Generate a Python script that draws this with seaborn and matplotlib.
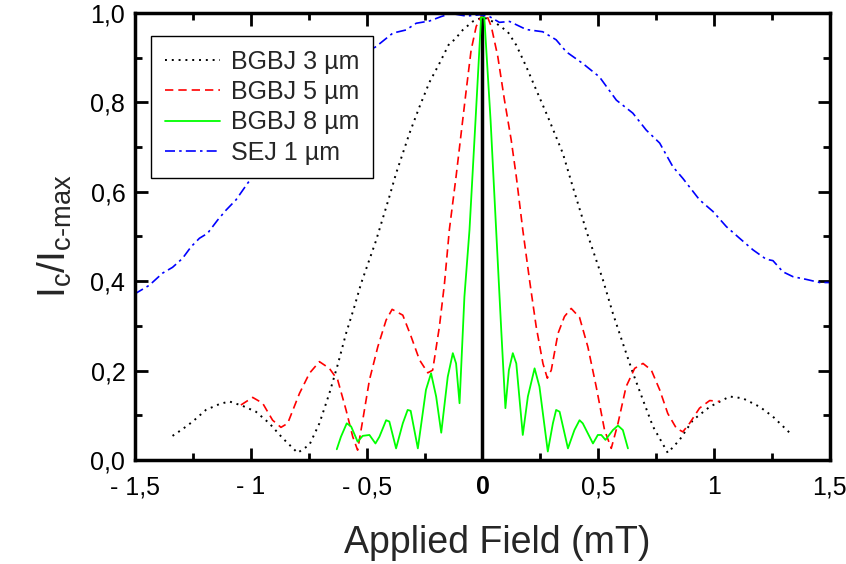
import matplotlib
matplotlib.use("Agg")
import matplotlib.pyplot as plt
import seaborn as sns
import pandas as pd
from matplotlib.ticker import AutoMinorLocator, FixedLocator

# ---------------- data ----------------
x_3um = [-1.338, -1.295, -1.251, -1.194, -1.136, -1.093, -1.035, -0.978, -0.920, -0.863,
         -0.798, -0.747, -0.704, -0.661, -0.625, -0.589, -0.553, -0.524, -0.46, -0.402,
         -0.373, -0.315, -0.272, -0.229, -0.186, -0.143, -0.121, -0.085, -0.042, -0.01,
         0.016, 0.059, 0.109, 0.146, 0.189, 0.232, 0.282, 0.347, 0.390, 0.45,
         0.520, 0.563, 0.606, 0.650, 0.693, 0.736, 0.800, 0.851, 0.908, 0.981,
         1.067, 1.124, 1.197, 1.254, 1.326]
y_3um = [0.054, 0.069, 0.086, 0.112, 0.125, 0.131, 0.121, 0.108, 0.082, 0.049,
         0.016, 0.034, 0.082, 0.149, 0.213, 0.283, 0.343, 0.395, 0.49, 0.589,
         0.641, 0.731, 0.790, 0.845, 0.887, 0.932, 0.940, 0.962, 0.981, 0.988,
         0.988, 0.977, 0.958, 0.928, 0.880, 0.828, 0.768, 0.686, 0.611, 0.51,
         0.403, 0.328, 0.261, 0.194, 0.134, 0.075, 0.016, 0.045, 0.089, 0.119,
         0.142, 0.138, 0.119, 0.097, 0.061]

x_5um = [-1.043, -0.992, -0.949, -0.906, -0.870, -0.841, -0.790, -0.747, -0.704, -0.661,
         -0.625, -0.589, -0.560, -0.539, -0.517, -0.488, -0.452, -0.416, -0.390, -0.344,
         -0.308, -0.272, -0.236, -0.215, -0.186, -0.164, -0.143, -0.114, -0.092, -0.070,
         -0.049, -0.027, -0.005, 0.016, 0.038, 0.066, 0.095, 0.124, 0.146, 0.174,
         0.203, 0.232, 0.261, 0.280, 0.297, 0.326, 0.354, 0.383, 0.419, 0.455,
         0.491, 0.527, 0.556, 0.585, 0.620, 0.657, 0.693, 0.729, 0.765, 0.800,
         0.837, 0.865, 0.894, 0.937, 0.981, 1.024]
y_5um = [0.123, 0.140, 0.127, 0.089, 0.073, 0.082, 0.149, 0.194, 0.220, 0.205,
         0.179, 0.112, 0.052, 0.022, 0.089, 0.179, 0.253, 0.313, 0.337, 0.324,
         0.276, 0.224, 0.195, 0.201, 0.298, 0.395, 0.515, 0.634, 0.731, 0.828,
         0.917, 0.970, 0.992, 0.998, 0.970, 0.903, 0.805, 0.716, 0.634, 0.515,
         0.403, 0.298, 0.216, 0.183, 0.201, 0.283, 0.321, 0.339, 0.319, 0.253,
         0.164, 0.067, 0.026, 0.082, 0.164, 0.205, 0.216, 0.201, 0.157, 0.104,
         0.071, 0.063, 0.082, 0.116, 0.133, 0.131]

x_8um = [-0.629, -0.611, -0.586, -0.567, -0.539, -0.517, -0.488, -0.462, -0.445, -0.416,
         -0.402, -0.373, -0.344, -0.323, -0.310, -0.279, -0.244, -0.222, -0.200, -0.178,
         -0.150, -0.128, -0.114, -0.099, -0.078, -0.056, -0.030, -0.006, 0.008, 0.035,
         0.059, 0.081, 0.099, 0.114, 0.131, 0.146, 0.174, 0.196, 0.225, 0.246,
         0.282, 0.304, 0.318, 0.333, 0.369, 0.397, 0.419, 0.433, 0.477, 0.498,
         0.513, 0.531, 0.563, 0.585, 0.606, 0.628]
y_8um = [0.024, 0.052, 0.082, 0.075, 0.041, 0.054, 0.056, 0.037, 0.052, 0.089,
         0.086, 0.026, 0.082, 0.112, 0.110, 0.026, 0.157, 0.194, 0.142, 0.061,
         0.186, 0.239, 0.216, 0.127, 0.365, 0.515, 0.76, 0.99, 0.99, 0.76,
         0.515, 0.291, 0.116, 0.201, 0.239, 0.216, 0.056, 0.142, 0.205, 0.164,
         0.019, 0.082, 0.112, 0.108, 0.026, 0.067, 0.089, 0.082, 0.037, 0.056,
         0.056, 0.045, 0.067, 0.077, 0.067, 0.026]

x_sej = [-1.503, -1.438, -1.381, -1.338, -1.295, -1.258, -1.222, -1.187, -1.143, -1.107,
         -1.064, -1.014, -0.85, -0.65, -0.459, -0.387, -0.330, -0.286, -0.229, -0.178,
         -0.135, -0.070, -0.013, 0.030, 0.073, 0.117, 0.189, 0.260, 0.318, 0.362,
         0.433, 0.505, 0.578, 0.649, 0.707, 0.765, 0.822, 0.865, 0.937, 0.995,
         1.053, 1.110, 1.168, 1.225, 1.254, 1.297, 1.341, 1.398, 1.456, 1.499]
y_sej = [0.371, 0.391, 0.418, 0.431, 0.451, 0.477, 0.496, 0.507, 0.537, 0.559,
         0.582, 0.619, 0.73, 0.86, 0.925, 0.955, 0.962, 0.977, 0.982, 0.992,
         0.999, 0.993, 0.996, 0.992, 0.979, 0.981, 0.963, 0.958, 0.940, 0.913,
         0.887, 0.857, 0.805, 0.776, 0.738, 0.709, 0.656, 0.630, 0.582, 0.556,
         0.522, 0.496, 0.470, 0.449, 0.446, 0.421, 0.410, 0.404, 0.397, 0.397]

series_labels = ["BGBJ 3 \u00b5m", "BGBJ 5 \u00b5m", "BGBJ 8 \u00b5m", "SEJ 1 \u00b5m"]
x_ticks = [-1.5, -1.0, -0.5, 0.0, 0.5, 1.0, 1.5]
x_tick_labels = ["- 1,5", "- 1", "- 0,5", "0", "0,5", "1", "1,5"]
y_ticks = [0.0, 0.2, 0.4, 0.6, 0.8, 1.0]
y_tick_labels = ["0,0", "0,2", "0,4", "0,6", "0,8", "1,0"]

# ---------------- style ----------------
sns.set_style("ticks")
plt.rcParams["font.family"] = ["Liberation Sans", "DejaVu Sans"]
plt.rcParams["mathtext.fontset"] = "custom"
plt.rcParams["mathtext.rm"] = "Liberation Sans"

fig = plt.figure(figsize=(8.46, 5.64), dpi=100)
ax = fig.add_axes([0.1596, 0.1844, 0.8214, 0.7926])

frames = [
    (x_3um, y_3um, series_labels[0], "black", (0, (1, 2.5)), 1.4),
    (x_5um, y_5um, series_labels[1], "#ff0000", (0, (5, 3)), 1.2),
    (x_8um, y_8um, series_labels[2], "#00ff00", "-", 1.3),
    (x_sej, y_sej, series_labels[3], "#0000ff", (0, (6, 2.5, 1.5, 2.5)), 1.2),
]
for xs, ys, lab, col, ls, lw in frames:
    df = pd.DataFrame({"x": xs, "y": ys})
    sns.lineplot(data=df, x="x", y="y", ax=ax, color=col, linestyle=ls,
                 linewidth=lw, label=lab, sort=False, estimator=None)

ax.axvline(0, ymin=0, ymax=1, color="black", linewidth=2.5, zorder=1)

ax.set_xlim(-1.5, 1.5)
ax.set_ylim(0, 1.0)
ax.xaxis.set_major_locator(FixedLocator(x_ticks))
ax.yaxis.set_major_locator(FixedLocator(y_ticks))
ax.xaxis.set_minor_locator(AutoMinorLocator(2))
ax.yaxis.set_minor_locator(AutoMinorLocator(2))
ax.set_xticklabels(x_tick_labels, fontsize=18)
ax.set_yticklabels(y_tick_labels, fontsize=18)
for t in ax.get_xticklabels():
    if t.get_text() == "0":
        t.set_fontweight("bold")

ax.tick_params(which="both", direction="in", top=True, right=True, width=2, colors="black")
ax.tick_params(which="major", length=9)
ax.tick_params(which="minor", length=5)
ax.tick_params(axis="x", which="major", pad=11)
ax.tick_params(axis="y", which="major", pad=7)
for s in ax.spines.values():
    s.set_linewidth(2.5)
    s.set_color("black")

ax.set_xlabel("Applied Field (mT)", fontsize=27)
ax.xaxis.set_label_coords(0.521, -0.145)
ax.set_ylabel(r"$\mathregular{I_c/I_{c\text{-}max}}$", fontsize=28, labelpad=12)

leg = ax.legend(loc="upper left", bbox_to_anchor=(0.023, 0.948), borderaxespad=0,
                fontsize=18, frameon=True, fancybox=False, edgecolor="black",
                framealpha=1, handlelength=2.2, borderpad=0.55, labelspacing=0.25,
                handletextpad=0.45)
leg.get_frame().set_linewidth(1.0)

fig.savefig("out.png", dpi=100)
